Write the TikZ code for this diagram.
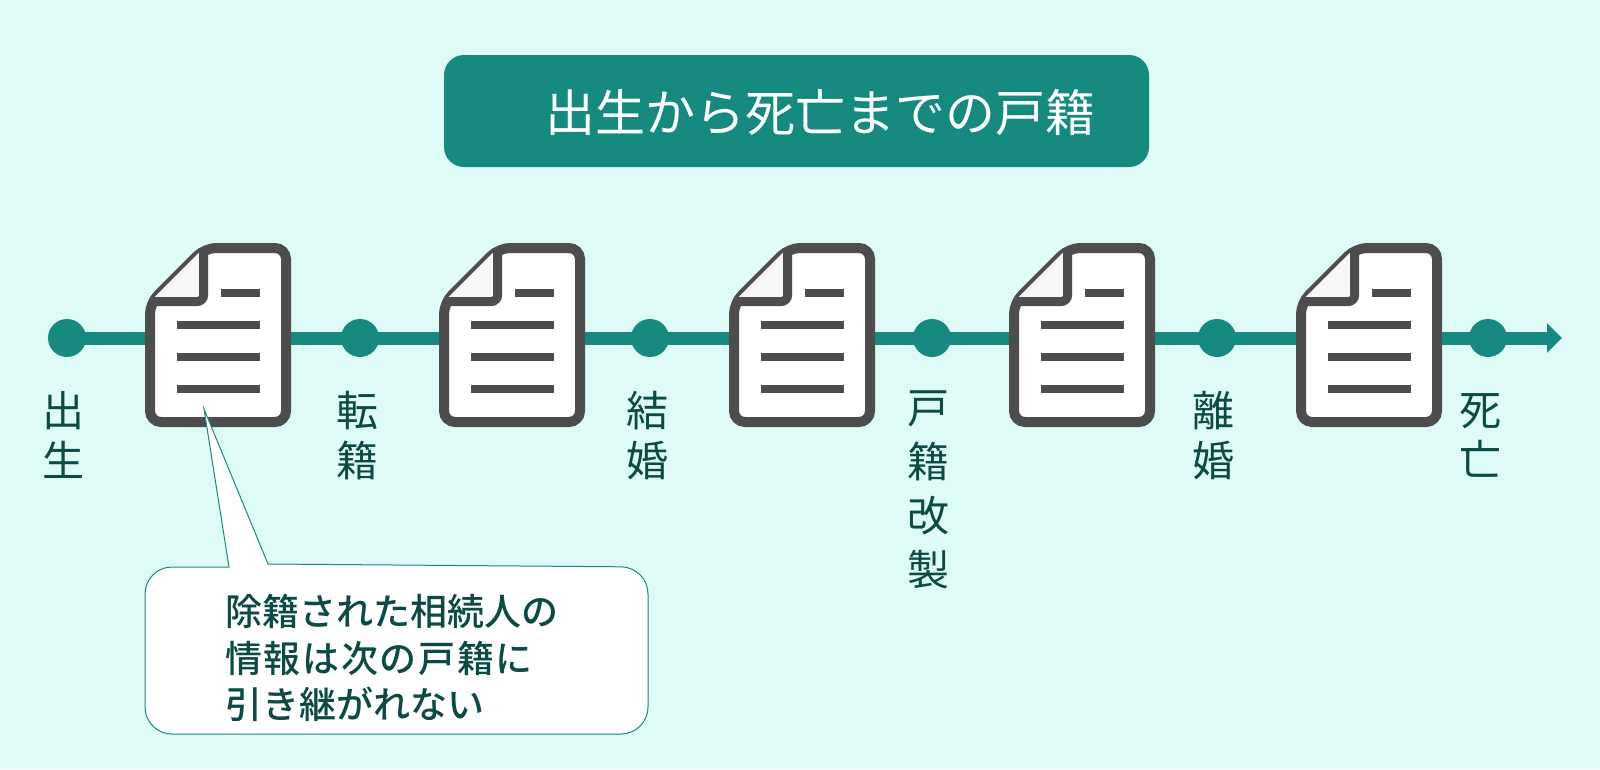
\documentclass[tikz,border=0pt]{standalone}
\usepackage{fontspec}
\setmainfont{Noto Sans CJK JP}
\newfontfamily\mediumfont{Noto Sans CJK JP Medium}
\newfontfamily\mediumwide[LetterSpace=4.5]{Noto Sans CJK JP Medium}
\usetikzlibrary{arrows.meta}
\definecolor{bgmint}{HTML}{DFFBF8}
\definecolor{teal}{HTML}{178A80}
\definecolor{darkteal}{HTML}{0C4A45}
\definecolor{icongray}{HTML}{4D4D4D}
\tikzset{
  dot/.style={circle, fill=teal, draw=none, minimum size=38pt, inner sep=0pt},
  event/.style={text=darkteal, align=center, anchor=north, inner sep=0pt,
    font=\fontsize{42}{50}\selectfont},
  docline/.style={draw=icongray, line width=8pt},
  doc/.pic={
    \draw[icongray, fill=white, line width=10pt, rounded corners=11pt]
      (5,60) -- (60,5) -- (141,5) -- (141,179) -- (5,179) -- cycle;
    \draw[icongray, fill=black!3, line width=9pt, rounded corners=7pt]
      (5,58.7) -- (58.7,58.7) -- (58.7,5);
    \draw[docline] (76,49.5) -- (115,49.5);
    \draw[docline] (32,82) -- (115,82);
    \draw[docline] (32,114) -- (115,114);
    \draw[docline] (32,146) -- (115,146);
  }
}
\begin{document}
\begin{tikzpicture}[x=1pt, y=-1pt]
  \useasboundingbox (0,0) rectangle (1600,769);
  \fill[bgmint] (0,0) rectangle (1600,769);

  \node (title) at (796.5,111) [fill=teal, rounded corners=20pt, minimum width=705pt,
    minimum height=112pt, inner sep=0pt] {};
  \node (titletext) at (820,112) [text=white, inner sep=0pt,
    font=\fontsize{50}{50}\selectfont] {出生から死亡までの戸籍};

  \node (birth) at (67,338) [dot] {};
  \node (move) at (360,338) [dot] {};
  \node (marriage) at (650,338) [dot] {};
  \node (reform) at (932,338) [dot] {};
  \node (divorce) at (1217,338) [dot] {};
  \node (death) at (1488,338) [dot] {};
  \coordinate (tip) at (1562,338);

  \draw[teal, line width=13pt, -{Triangle[length=15pt, width=29pt]}]
    (birth.center) -- (move.center) -- (marriage.center) -- (reform.center)
    -- (divorce.center) -- (death.center) -- (tip);

  \pic (doca) at (145,243) {doc};
  \pic (docb) at (439,243) {doc};
  \pic (docc) at (729,243) {doc};
  \pic (docd) at (1009,243) {doc};
  \pic (doce) at (1296,243) {doc};

  \node (lbirth) at (63,391) [event] {出\\生};
  \node (lmove) at (357,391) [event] {転\\籍};
  \node (lmarriage) at (647,391) [event] {結\\婚};
  \node (lreform) at (928,391) [event, font=\fontsize{42}{54}\selectfont] {戸\\籍\\改\\製};
  \node (ldivorce) at (1213,391) [event] {離\\婚};
  \node (ldeath) at (1480,393) [event] {死\\亡};

  \draw[teal, fill=white, line width=1pt, rounded corners=27pt]
    (145,567) [sharp corners] -- (229,567) -- (204,409) -- (268,564)
    [rounded corners=27pt] -- (648,567) -- (648,734) -- (145,734) -- cycle;
  \node (note) at (225,658) [anchor=west, text=darkteal, align=left, inner sep=0pt,
    font=\mediumfont\fontsize{37}{46.5}\selectfont]
    {除籍された相続人の\\{\mediumwide\fontsize{37}{46.5}\selectfont 情報は次の戸籍に}\\引き継がれない};
\end{tikzpicture}
\end{document}
